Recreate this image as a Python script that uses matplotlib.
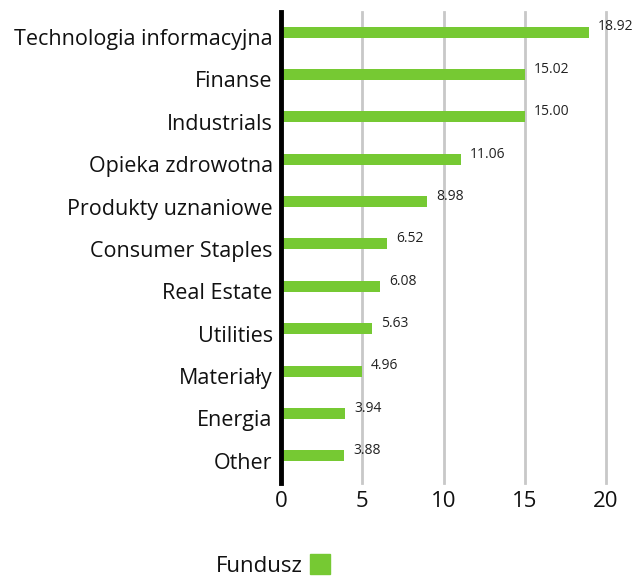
import matplotlib.pyplot as plt
import matplotlib.transforms as mtransforms

categories = ["Technologia informacyjna", "Finanse", "Industrials", "Opieka zdrowotna",
              "Produkty uznaniowe", "Consumer Staples", "Real Estate", "Utilities",
              "Materiały", "Energia", "Other"]
values = [18.92, 15.02, 15.00, 11.06, 8.98, 6.52, 6.08, 5.63, 4.96, 3.94, 3.88]
value_labels = ["18.92", "15.02", "15.00", "11.06", "8.98", "6.52", "6.08", "5.63",
                "4.96", "3.94", "3.88"]
series_name = "Fundusz"

green = "#76c933"
plt.rcParams['font.family'] = ['Open Sans', 'DejaVu Sans']

fig = plt.figure(figsize=(6.38, 5.76), dpi=100)
ax = fig.add_axes([0.4404, 0.1615, 0.5096, 0.8175])

pos = list(range(len(categories)))
ax.barh(pos, values, height=0.26, color=green, zorder=3)
for p, v, lab in zip(pos, values, value_labels):
    ax.text(v + 0.55, p - 0.12, lab, fontsize=10, va='center', ha='left', color='#222222')

ax.set_xlim(0, 20)
ax.set_ylim(10.64, -0.47)
ax.set_yticks(pos)
ax.set_yticklabels(categories, fontsize=15.5, color='#111111')
ax.set_xticks([0, 5, 10, 15, 20])
ax.tick_params(axis='x', labelsize=16, length=0, pad=6, colors='#111111')
ax.tick_params(axis='y', length=0, pad=6)
# labels sit a bit lower than the bars in the original
shift = mtransforms.ScaledTranslation(0, -5 / 100, fig.dpi_scale_trans)
for lbl in ax.get_yticklabels():
    lbl.set_transform(lbl.get_transform() + shift)
ax.grid(axis='x', color='#c8c8c8', linewidth=2, zorder=0)
for gl in ax.get_xgridlines():
    gl.set_clip_on(False)
for s in ['top', 'right', 'bottom']:
    ax.spines[s].set_visible(False)
ax.spines['left'].set_linewidth(3.5)
ax.spines['left'].set_color('black')
ax.spines['left'].set_zorder(5)

fig.text(303 / 638, 1 - 566 / 576, series_name, fontsize=16, ha='right', va='center',
         color='#111111')
fig.patches.append(plt.Rectangle((310 / 638, 1 - 574 / 576), 20 / 638, 20 / 576,
                                 transform=fig.transFigure, color=green, figure=fig))

fig.savefig("out.png", dpi=100)
